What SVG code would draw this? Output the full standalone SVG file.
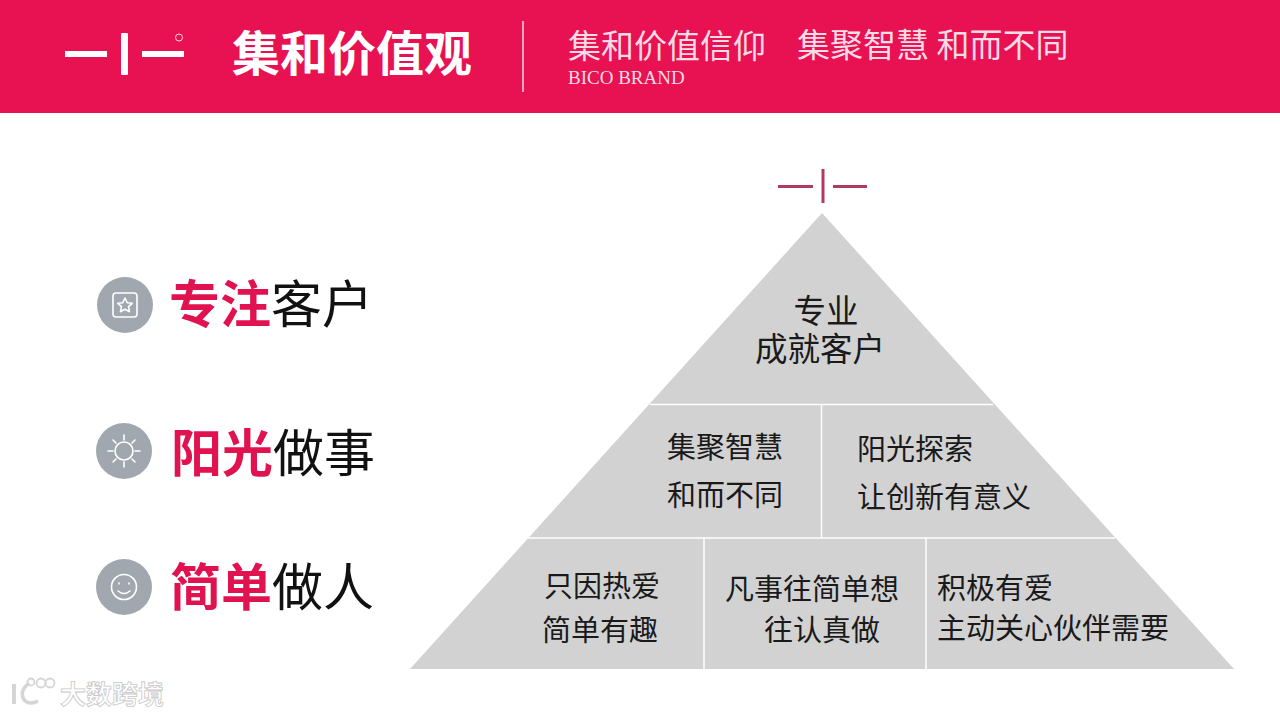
<svg xmlns="http://www.w3.org/2000/svg" width="1280" height="716" viewBox="0 0 1280 716">
<style>
text{font-family:"Noto Sans CJK SC","Noto Sans",sans-serif}
.b{font-size:29px;fill:#1a1a1a;font-weight:400}
.t{font-size:32.500px}
.k{font-size:51px;fill:#111}
.r{font-weight:700;fill:#e0124f}
.ic{fill:none;stroke:#fff;stroke-width:1.6;stroke-linecap:round;stroke-linejoin:round}
.c{fill:#a0a7af}
.sep{stroke:#fff;stroke-width:1.5}
.wm{fill:none;stroke:#d5d5d5}
</style>
<rect width="1280" height="716" fill="#fff"/>
<g id="header">
<rect width="1280" height="113" fill="#e81151"/>
<g fill="#fff"><rect x="65" y="51" width="42" height="6"/><rect x="121" y="33" width="7" height="42" rx="1"/><rect x="142" y="51" width="42" height="6"/></g>
<circle cx="179" cy="37.500" r="3.500" fill="none" stroke="#fbdbe5" stroke-width="1"/>
<text x="232" y="71" font-size="48" font-weight="700" fill="#fff">集和价值观</text>
<rect x="522" y="21" width="2" height="71" fill="#f7a8bf"/>
<text x="568" y="58" font-size="33" fill="#fbdbe5" font-weight="400">集和价值信仰</text>
<text x="797" y="57" font-size="33" fill="#fbdbe5" font-weight="400">集聚智慧 和而不同</text>
<text x="568" y="84" font-size="19" fill="#fbdbe5" style="font-family:'Liberation Serif',serif">BICO BRAND</text>
</g>
<g id="logo-small" fill="#b03a62"><rect x="778" y="185" width="35" height="3"/><rect x="821.500" y="169" width="3" height="34"/><rect x="833" y="185" width="34" height="3"/></g>
<g id="pyramid">
<polygon id="pyramid-shape" points="822,213 1234,669 410,669" fill="#d2d2d3"/>
<g id="connectors"><path class="sep" d="M650,404.500H993M528,538H1115M821.500,404.500V538M704,538V669M926,538V669" fill="none"/></g>
<g id="top" text-anchor="middle"><text class="b t" x="826" y="323">专业</text><text class="b t" x="820" y="361">成就客户</text></g>
<g id="mid-left" text-anchor="middle"><text class="b" x="725" y="458">集聚智慧</text><text class="b" x="725" y="506">和而不同</text></g>
<g id="mid-right"><text class="b" x="857" y="460">阳光探索</text><text class="b" x="857" y="508">让创新有意义</text></g>
<g id="bot-left" text-anchor="middle"><text class="b" x="602" y="597">只因热爱</text><text class="b" x="600" y="641">简单有趣</text></g>
<g id="bot-mid" text-anchor="middle"><text class="b" x="812" y="600">凡事往简单想</text><text class="b" x="822" y="641">往认真做</text></g>
<g id="bot-right"><text class="b" x="937" y="599">积极有爱</text><text class="b" x="937" y="639">主动关心伙伴需要</text></g>
</g>
<g id="value-1">
<circle class="c" cx="125" cy="305" r="28"/>
<rect class="ic" x="113" y="293" width="24" height="24" rx="3"/>
<path class="ic" d="M125,298l2.200,4.700 5,.6-3.700,3.400 1,5-4.500,-2.500-4.500,2.500 1,-5-3.700,-3.400 5,-.6z"/>
<text class="k" x="169" y="323"><tspan class="r">专注</tspan>客户</text>
</g>
<g id="value-2">
<circle class="c" cx="124" cy="451" r="28"/>
<circle class="ic" cx="124" cy="451" r="9"/>
<path class="ic" d="M124,435v5M124,462v5M108,451h5M135,451h5M113,440l3,3M132,459l3,3M113,462l3,-3M132,443l3,-3"/>
<text class="k" x="171" y="472"><tspan class="r">阳光</tspan>做事</text>
</g>
<g id="value-3">
<circle class="c" cx="124" cy="587" r="28"/>
<circle class="ic" cx="124" cy="587" r="12.500"/>
<path class="ic" d="M118,591q6,5 12,0M119,583v1M129,583v1"/>
<text class="k" x="170" y="606"><tspan class="r">简单</tspan>做人</text>
</g>
<g id="watermark">
<path class="wm" d="M14,684v20" stroke-width="4"/>
<path class="wm" d="M29,683q-11,9 -4,18q6,4 13,0" stroke-width="3.500"/>
<circle class="wm" cx="31" cy="682" r="3.500" stroke-width="1.800"/><circle class="wm" cx="41" cy="683" r="4.500" stroke-width="1.800"/><circle class="wm" cx="50" cy="683" r="4.500" stroke-width="1.800"/>
<text x="60" y="704" font-size="26" font-weight="700" fill="#fff" stroke="#c9c9c9" stroke-width=".8">大数跨境</text>
</g>
</svg>
